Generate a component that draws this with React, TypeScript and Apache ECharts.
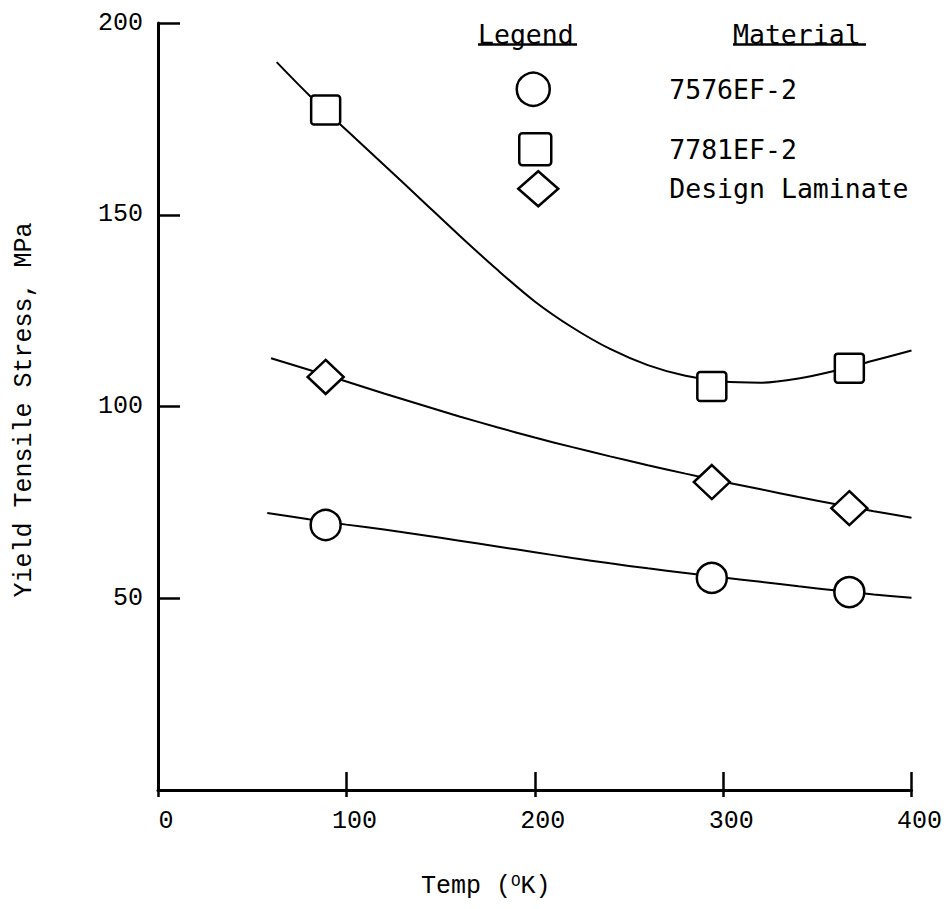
import React, { useEffect, useRef } from 'react';
import * as echarts from 'echarts';

// Measured data (temperature in K, yield tensile stress in MPa)
const temps = [89, 294, 367];
const seriesNames = ['7576EF-2', '7781EF-2', 'Design Laminate'];
const stress7576 = [69.1, 55.3, 51.6];
const stress7781 = [177.3, 105.2, 110.0];
const stressDesign = [107.7, 80.3, 73.5];

// Hand-drawn fitted curves as [temp, stress]
const fit7576 = [[58, 72.2], [80, 70.6], [100, 69.2], [120, 67.9], [140, 66.5], [160, 65.0], [180, 63.5], [200, 62.0], [220, 60.5], [240, 59.1], [260, 57.8], [280, 56.6], [300, 55.4], [320, 54.3], [340, 53.1], [360, 52.0], [380, 51.0], [400, 50.1]];
const fit7781 = [[63, 189.8], [80, 181.3], [100, 172.1], [120, 163.0], [140, 153.8], [160, 144.6], [180, 135.7], [200, 127.4], [220, 120.6], [240, 115.0], [260, 110.8], [280, 108.0], [300, 106.5], [320, 106.2], [340, 107.3], [360, 109.4], [380, 112.0], [400, 114.6]];
const fitDesign = [[60, 112.6], [80, 109.6], [100, 106.5], [120, 103.4], [140, 100.4], [160, 97.4], [180, 94.6], [200, 91.9], [220, 89.4], [240, 87.0], [260, 84.7], [280, 82.5], [300, 80.4], [320, 78.4], [340, 76.4], [360, 74.5], [380, 72.7], [400, 71.0]];

// Axis ticks
const xTicks = [0, 100, 200, 300, 400];
const yTicks = [50, 100, 150, 200];

const SQUARE = 'path://M2,0H18A2,2 0 0 1 20,2V18A2,2 0 0 1 18,20H2A2,2 0 0 1 0,18V2A2,2 0 0 1 2,0Z';
const MONO = 'Liberation Mono';
const LEG = 'DejaVu Sans Mono';

export default function App() {
  const ref = useRef<HTMLDivElement>(null);
  useEffect(() => {
    if (!ref.current) return;
    const chart = echarts.init(ref.current, undefined, { renderer: 'svg' });
    const markerStyle = { color: '#fff', borderColor: '#000', borderWidth: 2.5, opacity: 1 };
    const lineSeries = (name: string, data: number[][]) => ({
      name,
      type: 'line',
      data,
      smooth: 0.3,
      symbol: 'none',
      showSymbol: false,
      silent: true,
      lineStyle: { color: '#000', width: 2 },
      z: 2,
    });
    const legendCommon = {
      orient: 'vertical',
      padding: 0,
      selectedMode: false,
      itemStyle: { color: '#fff', borderColor: '#000', borderWidth: 2.5, opacity: 1 },
    };
    const legText = (pad: number, lh: number) => ({
      fontFamily: LEG,
      fontSize: 26.5,
      color: '#000',
      padding: [0, 0, 0, pad],
      lineHeight: lh,
    });
    chart.setOption({
      animation: false,
      backgroundColor: '#fff',
      grid: { left: 158, right: 37.5, top: 23, bottom: 119, containLabel: false },
      xAxis: [
        {
          type: 'value',
          min: xTicks[0],
          max: xTicks[xTicks.length - 1],
          interval: 100,
          position: 'bottom',
          axisLine: { show: true, lineStyle: { color: '#000', width: 3 } },
          axisTick: { show: true, inside: true, length: 18, lineStyle: { color: '#000', width: 2.5 } },
          axisLabel: { show: true, color: '#000', fontFamily: MONO, fontSize: 25, margin: 19, padding: [0, 0, 0, 16] },
          splitLine: { show: false },
        },
        {
          type: 'value',
          min: xTicks[0],
          max: xTicks[xTicks.length - 1],
          interval: 100,
          position: 'bottom',
          axisLine: { show: false },
          axisTick: { show: true, inside: false, length: 7, lineStyle: { color: '#000', width: 2.5 } },
          axisLabel: { show: false },
          splitLine: { show: false },
        },
      ],
      yAxis: {
        type: 'value',
        min: 0,
        max: yTicks[yTicks.length - 1],
        interval: 50,
        axisLine: { show: true, lineStyle: { color: '#000', width: 3 } },
        axisTick: { show: true, inside: true, length: 22, lineStyle: { color: '#000', width: 2.5 } },
        axisLabel: {
          color: '#000',
          fontFamily: MONO,
          fontSize: 25,
          margin: 15,
          formatter: (v: number) => (yTicks.indexOf(v) >= 0 ? String(v) : ''),
        },
        splitLine: { show: false },
      },
      legend: [
        {
          ...legendCommon,
          data: [seriesNames[0]],
          left: 515.5,
          top: 71.5,
          icon: 'circle',
          itemWidth: 33,
          itemHeight: 33,
          textStyle: legText(114.5, 33),
        },
        {
          ...legendCommon,
          data: [seriesNames[1]],
          left: 518,
          top: 132,
          icon: SQUARE,
          itemWidth: 32,
          itemHeight: 32,
          textStyle: legText(113, 32),
        },
        {
          ...legendCommon,
          data: [seriesNames[2]],
          left: 517,
          top: 170,
          icon: 'diamond',
          itemWidth: 40,
          itemHeight: 35,
          textStyle: legText(106, 35),
        },
      ],
      graphic: [
        {
          type: 'text',
          left: 478,
          top: 21,
          style: { text: 'Legend', fontFamily: LEG, fontSize: 26.5, fill: '#000' },
        },
        {
          type: 'text',
          left: 733,
          top: 21,
          style: { text: 'Material', fontFamily: LEG, fontSize: 26.5, fill: '#000' },
        },
        { type: 'line', shape: { x1: 478, y1: 44.5, x2: 577, y2: 44.5 }, style: { stroke: '#000', lineWidth: 2.5 } },
        { type: 'line', shape: { x1: 733, y1: 44.5, x2: 866, y2: 44.5 }, style: { stroke: '#000', lineWidth: 2.5 } },
        {
          type: 'text',
          x: 24,
          y: 410,
          rotation: Math.PI / 2,
          style: {
            text: 'Yield Tensile Stress, MPa',
            fontFamily: MONO,
            fontSize: 25,
            fill: '#000',
            align: 'center',
            verticalAlign: 'middle',
          },
        },
        {
          type: 'text',
          left: 421,
          top: 874,
          style: {
            text: 'Temp ({s|O}K)',
            fontFamily: MONO,
            fontSize: 25,
            fill: '#000',
            rich: { s: { fontFamily: MONO, fontSize: 16, verticalAlign: 'top', fill: '#000' } },
          },
        },
      ],
      series: [
        lineSeries('fit7576', fit7576),
        lineSeries('fit7781', fit7781),
        lineSeries('fitDesign', fitDesign),
        {
          name: seriesNames[0],
          type: 'scatter',
          symbol: 'circle',
          symbolSize: 30,
          data: temps.map((t, i) => [t, stress7576[i]]),
          itemStyle: markerStyle,
          z: 3,
        },
        {
          name: seriesNames[1],
          type: 'scatter',
          symbol: SQUARE,
          symbolSize: 29,
          data: temps.map((t, i) => [t, stress7781[i]]),
          itemStyle: markerStyle,
          z: 3,
        },
        {
          name: seriesNames[2],
          type: 'scatter',
          symbol: 'diamond',
          symbolSize: [36, 34],
          data: temps.map((t, i) => [t, stressDesign[i]]),
          itemStyle: markerStyle,
          z: 3,
        },
      ],
    });
    return () => chart.dispose();
  }, []);
  return (
    <div
      ref={ref}
      style={{ position: 'absolute', left: 0, top: 0, width: 949, height: 909, background: '#fff' }}
    />
  );
}
